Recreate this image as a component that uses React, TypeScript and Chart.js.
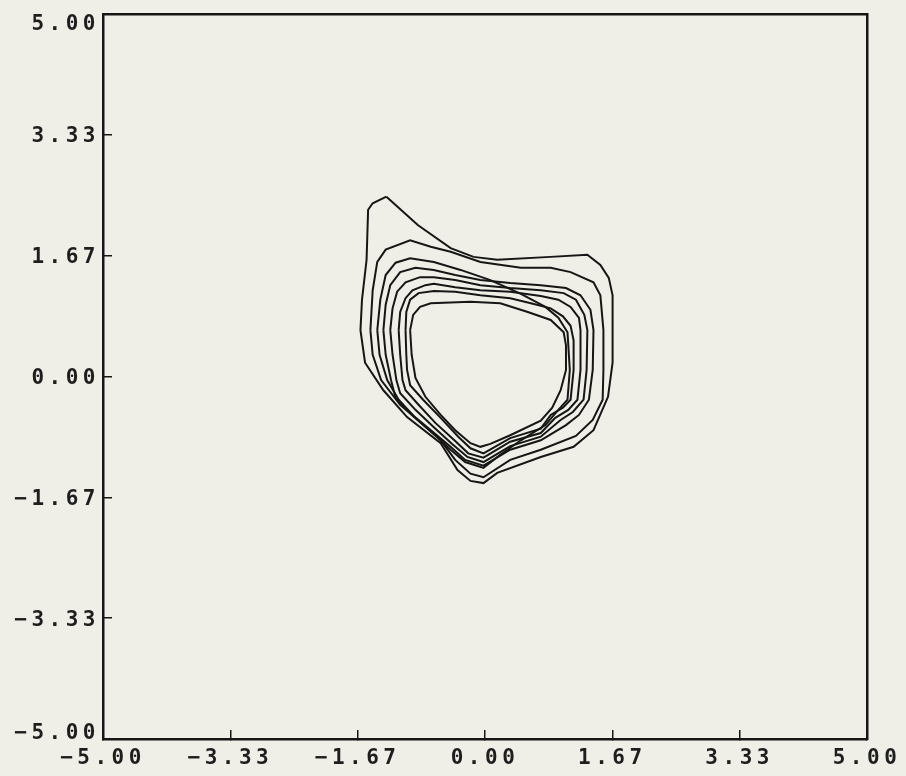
import React, { useEffect, useRef } from "react";
import { Chart, registerables } from "chart.js";

Chart.register(...registerables);

const BG = "#efefe7";
const INK = "#161616";

const xTickValues = [-5, -3.333, -1.667, 0, 1.667, 3.333, 5];
const xTickLabels = ["\u22125.00", "\u22123.33", "\u22121.67", "0.00", "1.67", "3.33", "5.00"];
const yTickValues = [-5, -3.333, -1.667, 0, 1.667, 3.333, 5];
const yTickLabels = ["\u22125.00", "\u22123.33", "\u22121.67", "0.00", "1.67", "3.33", "5.00"];

type P = [number, number];

const contourA: P[] = [
  [-1.29, 2.48], [-0.88, 2.09], [-0.45, 1.77], [-0.15, 1.65], [0.16, 1.61], [0.86, 1.65],
  [1.34, 1.68], [1.51, 1.54], [1.62, 1.36], [1.67, 1.12], [1.67, 0.64], [1.67, 0.19],
  [1.61, -0.28], [1.42, -0.74], [1.16, -0.97], [0.73, -1.11], [0.16, -1.33], [-0.02, -1.47],
  [-0.19, -1.44], [-0.36, -1.29], [-0.58, -0.92], [-1.02, -0.56], [-1.33, -0.19], [-1.57, 0.19],
  [-1.63, 0.64], [-1.61, 1.06], [-1.55, 1.61], [-1.53, 2.3], [-1.47, 2.39],
];

const contourB: P[] = [
  [-1.5, 0.64], [-1.47, 1.19], [-1.41, 1.58], [-1.3, 1.75], [-0.98, 1.88], [-0.71, 1.79],
  [-0.45, 1.72], [-0.06, 1.58], [0.47, 1.5], [0.86, 1.5], [1.12, 1.44], [1.42, 1.3],
  [1.51, 1.12], [1.55, 0.64], [1.55, 0.09], [1.54, -0.32], [1.41, -0.6], [1.19, -0.82],
  [0.73, -1.01], [0.33, -1.15], [-0.02, -1.39], [-0.19, -1.34], [-0.39, -1.15], [-0.58, -0.88],
  [-0.85, -0.63], [-1.11, -0.39], [-1.36, -0.05], [-1.47, 0.3],
];

const contourC: P[] = [
  [-1.41, 0.64], [-1.37, 1.06], [-1.3, 1.4], [-1.17, 1.57], [-0.98, 1.63], [-0.67, 1.58],
  [-0.32, 1.47], [0.07, 1.33], [0.47, 1.14], [0.79, 0.96], [0.96, 0.81], [1.08, 0.61],
  [1.11, 0.09], [1.08, -0.32], [0.96, -0.46], [0.79, -0.67], [0.47, -0.88], [0.2, -1.08],
  [-0.02, -1.26], [-0.26, -1.18], [-0.45, -1.01], [-0.65, -0.81], [-0.91, -0.57], [-1.13, -0.32],
  [-1.28, -0.05], [-1.38, 0.3],
];

const contourD: P[] = [
  [-1.33, 0.64], [-1.3, 0.99], [-1.24, 1.26], [-1.11, 1.44], [-0.91, 1.5], [-0.67, 1.47],
  [-0.39, 1.4], [-0.06, 1.33], [0.33, 1.29], [0.73, 1.26], [1.06, 1.22], [1.25, 1.12],
  [1.38, 0.92], [1.42, 0.64], [1.41, 0.09], [1.36, -0.32], [1.23, -0.53], [1.06, -0.67],
  [0.73, -0.88], [0.33, -1.01], [-0.02, -1.23], [-0.26, -1.15], [-0.45, -0.97], [-0.7, -0.75],
  [-0.95, -0.53], [-1.17, -0.3], [-1.23, -0.05], [-1.3, 0.3],
];

const contourE: P[] = [
  [-1.24, 0.64], [-1.21, 0.94], [-1.15, 1.17], [-1.04, 1.3], [-0.85, 1.37], [-0.67, 1.37],
  [-0.39, 1.33], [-0.06, 1.26], [0.33, 1.22], [0.73, 1.19], [1.03, 1.15], [1.19, 1.06],
  [1.3, 0.85], [1.34, 0.64], [1.33, 0.09], [1.29, -0.32], [1.15, -0.49], [0.99, -0.6],
  [0.73, -0.83], [0.33, -0.96], [-0.02, -1.18], [-0.23, -1.11], [-0.43, -0.93], [-0.67, -0.7],
  [-0.91, -0.46], [-1.11, -0.23], [-1.16, -0.05], [-1.21, 0.3],
];

const contourF: P[] = [
  [-1.13, 0.64], [-1.11, 0.89], [-1.04, 1.08], [-0.95, 1.19], [-0.78, 1.26], [-0.67, 1.28],
  [-0.39, 1.23], [-0.06, 1.19], [0.33, 1.17], [0.73, 1.11], [0.96, 1.06], [1.12, 0.96],
  [1.23, 0.81], [1.25, 0.64], [1.25, 0.09], [1.21, -0.32], [1.09, -0.46], [0.92, -0.57],
  [0.73, -0.78], [0.33, -0.9], [-0.02, -1.12], [-0.22, -1.06], [-0.39, -0.89], [-0.65, -0.64],
  [-0.87, -0.39], [-1.04, -0.19], [-1.08, -0.05], [-1.11, 0.3],
];

const contourG: P[] = [
  [-1.04, 0.64], [-1.03, 0.89], [-0.98, 1.06], [-0.87, 1.15], [-0.67, 1.18], [-0.39, 1.17],
  [-0.06, 1.12], [0.33, 1.08], [0.6, 1.01], [0.86, 0.94], [1.02, 0.83], [1.12, 0.7],
  [1.16, 0.5], [1.16, 0.09], [1.12, -0.32], [1.02, -0.43], [0.86, -0.53], [0.73, -0.72],
  [0.33, -0.85], [-0.02, -1.06], [-0.19, -0.99], [-0.35, -0.83], [-0.58, -0.57], [-0.81, -0.32],
  [-0.98, -0.12], [-1.02, 0.09], [-1.03, 0.3],
];

const contourH: P[] = [
  [-0.98, 0.64], [-0.94, 0.85], [-0.85, 0.96], [-0.71, 1.01], [-0.19, 1.03], [0.2, 1.01],
  [0.56, 0.89], [0.86, 0.78], [1.03, 0.61], [1.06, 0.43], [1.06, 0.09], [0.99, -0.19],
  [0.88, -0.43], [0.73, -0.61], [0.33, -0.81], [0.07, -0.93], [-0.06, -0.97], [-0.19, -0.92],
  [-0.39, -0.74], [-0.58, -0.53], [-0.78, -0.28], [-0.91, -0.02], [-0.96, 0.3],
];

const contours = [contourA, contourB, contourC, contourD, contourE, contourF, contourG, contourH];

const tickFont = { family: "'DejaVu Sans Mono', monospace", size: 21, weight: "bold" as const };

const spacingPlugin = {
  id: "spacing",
  beforeDraw(chart: any) {
    const ctx = chart.ctx;
    ctx.save();
    ctx.fillStyle = BG;
    ctx.fillRect(0, 0, chart.width, chart.height);
    ctx.restore();
    ctx.letterSpacing = "4.5px";
  },
  afterDraw(chart: any) {
    chart.ctx.letterSpacing = "0px";
  },
};

export default function App() {
  const ref = useRef<HTMLCanvasElement>(null);
  useEffect(() => {
    document.body.style.margin = "0";
    document.body.style.background = BG;
    const datasets = contours.map((c) => ({
      data: [...c, c[0]].map(([x, y]) => ({ x, y })),
      showLine: true,
      borderColor: INK,
      borderWidth: 2,
      pointRadius: 0,
      fill: false,
      tension: 0,
    }));
    const lastY = yTickLabels.length - 1;
    const chart = new Chart(ref.current as HTMLCanvasElement, {
      type: "scatter",
      data: { datasets },
      plugins: [spacingPlugin],
      options: {
        animation: false,
        responsive: false,
        devicePixelRatio: 1,
        layout: { padding: { top: 14, right: 39, bottom: 0, left: 0 } },
        plugins: { legend: { display: false }, tooltip: { enabled: false } },
        scales: {
          x: {
            type: "linear",
            position: "bottom",
            min: -5,
            max: 5,
            afterBuildTicks: (s: any) => {
              s.ticks = xTickValues.map((v) => ({ value: v }));
            },
            afterFit: (s: any) => {
              s.height = 37;
              s.paddingLeft = 0;
              s.paddingRight = 0;
            },
            grid: { drawOnChartArea: false, tickLength: -9, color: INK, lineWidth: 1.5 },
            border: { display: true, color: INK, width: 2.5 },
            ticks: {
              padding: 16,
              font: tickFont,
              color: "#1e1e1e",
              maxRotation: 0,
              autoSkip: false,
              callback: (_v: any, i: number) => xTickLabels[i],
            },
          },
          y: {
            type: "linear",
            position: "left",
            min: -5,
            max: 5,
            afterBuildTicks: (s: any) => {
              s.ticks = yTickValues.map((v) => ({ value: v }));
            },
            afterFit: (s: any) => {
              s.width = 103;
              s.paddingTop = 0;
              s.paddingBottom = 0;
            },
            grid: { drawOnChartArea: false, tickLength: -9, color: INK, lineWidth: 1.5 },
            border: { display: true, color: INK, width: 2.5 },
            ticks: {
              padding: 12,
              labelOffset: 2,
              font: (ctx: any) => ({
                ...tickFont,
                lineHeight: ctx.index === lastY ? 0.81 : ctx.index === 0 ? 0.67 : 1.2,
              }),
              color: "#1e1e1e",
              autoSkip: false,
              callback: (_v: any, i: number) =>
                i === lastY ? ["", yTickLabels[i]] : i === 0 ? [yTickLabels[i], ""] : yTickLabels[i],
            },
          },
          x2: {
            type: "linear",
            position: "top",
            min: -5,
            max: 5,
            grid: { display: false },
            border: { display: true, color: INK, width: 2.5 },
            ticks: { display: false },
            afterFit: (s: any) => {
              s.height = 0;
              s.paddingLeft = 0;
              s.paddingRight = 0;
            },
          },
          y2: {
            type: "linear",
            position: "right",
            min: -5,
            max: 5,
            grid: { display: false },
            border: { display: true, color: INK, width: 2.5 },
            ticks: { display: false },
            afterFit: (s: any) => {
              s.width = 0;
              s.paddingTop = 0;
              s.paddingBottom = 0;
            },
          },
        },
      },
    } as any);
    return () => chart.destroy();
  }, []);
  return (
    <div style={{ position: "fixed", left: 0, top: 0, width: 906, height: 776 }}>
      <canvas ref={ref} width={906} height={776} style={{ display: "block" }} />
    </div>
  );
}
